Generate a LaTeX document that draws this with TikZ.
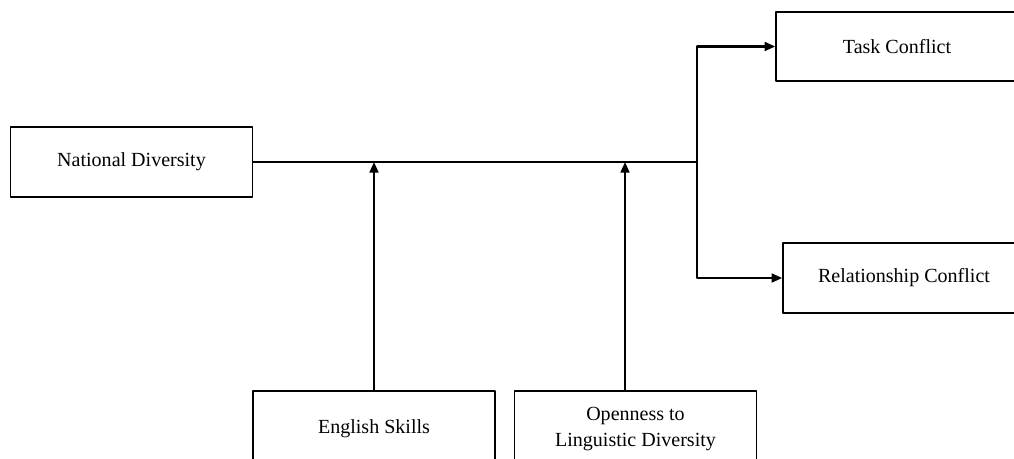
\documentclass[tikz,border=0pt]{standalone}
\usepackage{fontspec}
\setmainfont{Liberation Serif}
\usepackage{tikz}
\usetikzlibrary{arrows.meta,calc}

\tikzset{
  factor/.style={draw,line width=0.9pt,minimum width=4.84cm,minimum height=1.39cm,
    inner sep=0pt,align=center,font=\fontsize{11.4}{14.8}\selectfont},
  link/.style={line width=1.25pt}
}

\begin{document}
\begin{tikzpicture}[line cap=round,line join=round,>={Triangle[length=6pt,width=5pt]},x=0.02cm,y=-0.02cm]
                \useasboundingbox (0,0) rectangle (1014,459);
                % boxes
                \node[factor] (nat) at (131.5,162) {National Diversity};
                \node[factor] (task) at (897,46.5) {Task Conflict};
                \node[factor] (rel) at (904,278) {Relationship Conflict};
                \node[factor,minimum height=1.52cm] (eng) at (374,429) {English Skills};
                \node[factor,minimum height=1.52cm] (open) at (635.5,429) {Openness to\\Linguistic Diversity};
                % points on the main line
                \coordinate (m1) at (374,162);
                \coordinate (m2) at (625,162);
                \coordinate (split) at (697,162);
                \draw [link] (nat.east)-- (split);
                \draw [link,->] (split) |- (task.west);
                \draw [link,->] (split) |- (rel.west);
                \draw [link,->] (eng.north)-- (m1);
                \draw [link,->] (open.north -| m2)-- (m2);
                \end{tikzpicture}
\end{document}
